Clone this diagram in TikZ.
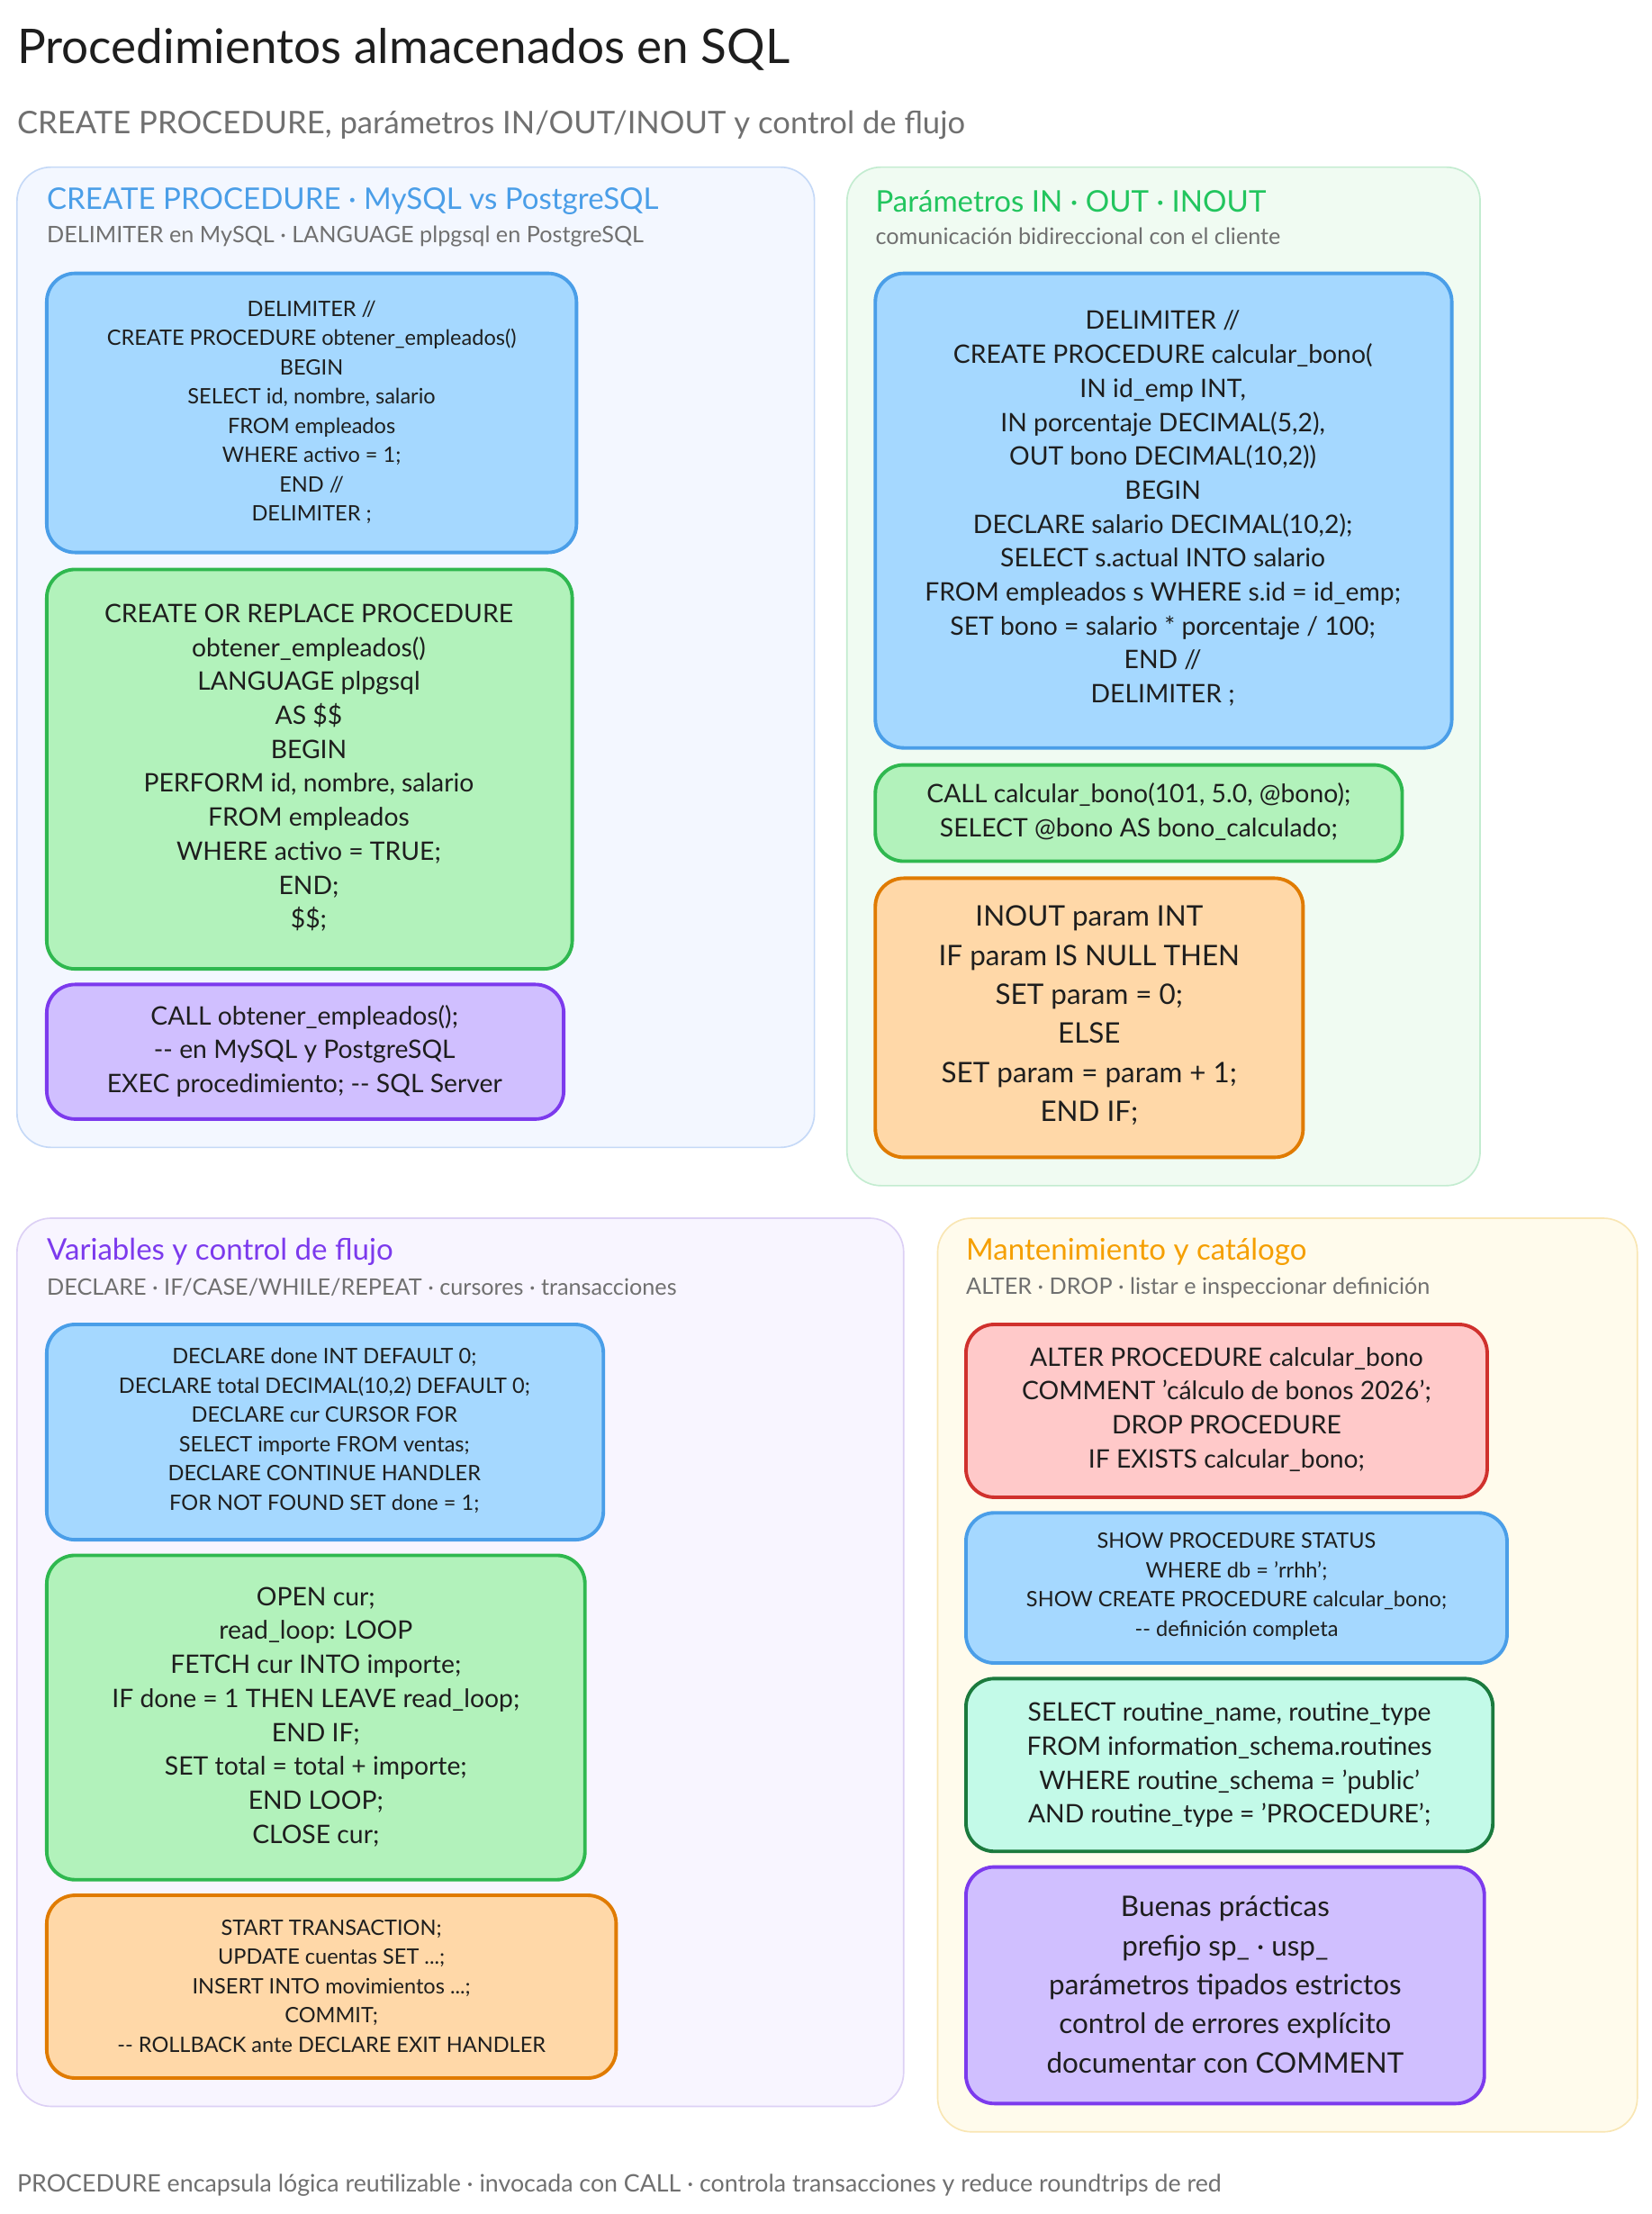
\documentclass[tikz,border=0pt]{standalone}
\usepackage{fontspec}
\setmainfont{Lato}
\definecolor{bBlueF}{HTML}{A5D8FF}\definecolor{bBlueD}{HTML}{4A9EE8}
\definecolor{bGreenF}{HTML}{B2F2BB}\definecolor{bGreenD}{HTML}{2FB84F}
\definecolor{bPurpF}{HTML}{D0BFFF}\definecolor{bPurpD}{HTML}{7C3AED}
\definecolor{bOrF}{HTML}{FFD8A8}\definecolor{bOrD}{HTML}{E07B00}
\definecolor{bRedF}{HTML}{FFC9C9}\definecolor{bRedD}{HTML}{D0312D}
\definecolor{bTealF}{HTML}{C3FAE8}\definecolor{bTealD}{HTML}{1B7A3D}
\definecolor{txt}{HTML}{1E1E1E}\definecolor{gr}{HTML}{707070}
\definecolor{p1F}{HTML}{F3F7FF}\definecolor{p1D}{HTML}{C5D9F7}
\definecolor{p2F}{HTML}{F0FBF2}\definecolor{p2D}{HTML}{C3ECD0}
\definecolor{p3F}{HTML}{F8F5FF}\definecolor{p3D}{HTML}{DCD0F5}
\definecolor{p4F}{HTML}{FFFBEC}\definecolor{p4D}{HTML}{F9E6B3}
\definecolor{t2C}{HTML}{22C55E}\definecolor{t4C}{HTML}{F59F00}
\newcommand{\fsS}{\fontsize{21.3pt}{29.4pt}\selectfont}
\newcommand{\fsM}{\fontsize{25.6pt}{34.1pt}\selectfont}
\newcommand{\fsL}{\fontsize{28.4pt}{39.2pt}\selectfont}
\newcommand{\q}{\char"27\relax}
\begin{document}
\begin{tikzpicture}[x=0.05cm,y=-0.05cm,
  panel/.style={rounded corners=1.2cm,line width=1.5pt},
  box/.style={rounded corners=1cm,line width=3.5pt},
  ptitle/.style={anchor=west,inner sep=0,font=\fontsize{29.9pt}{34pt}\selectfont},
  psub/.style={anchor=west,inner sep=0,text=gr,font=\fontsize{22.8pt}{26pt}\selectfont},
  btxt/.style={align=center,text=txt,inner sep=0}]
\useasboundingbox[fill=white] (0,0) rectangle (1166,1563);
\node[anchor=west,inner sep=0,text=txt,font=\fontsize{48pt}{55pt}\selectfont] (title) at (12,35) {Procedimientos almacenados en SQL};
\node[anchor=west,inner sep=0,text=gr,font=\fontsize{31.3pt}{36pt}\selectfont] (sub) at (12,88) {CREATE PROCEDURE, parámetros IN/OUT/INOUT y control de flujo};
\node[anchor=west,inner sep=0,text=gr,font=\fontsize{24.2pt}{28pt}\selectfont] (foot) at (12,1543) {PROCEDURE encapsula lógica reutilizable · invocada con CALL · controla transacciones y reduce roundtrips de red};
% panel 1
\draw[panel,fill=p1F,draw=p1D] (12,118) rectangle (575,810);
\node[ptitle,text=bBlueD] (t1) at (33,142) {CREATE PROCEDURE · MySQL vs PostgreSQL};
\node[psub] (s1) at (33,167) {DELIMITER en MySQL · LANGUAGE plpgsql en PostgreSQL};
\draw[box,fill=bBlueF,draw=bBlueD] (33,193) rectangle (407,390);
\node[btxt,font=\fsS] (a1) at (220,291) {DELIMITER //\\CREATE PROCEDURE obtener\_empleados()\\BEGIN\\SELECT id, nombre, salario\\FROM empleados\\WHERE activo = 1;\\END //\\DELIMITER ;};
\draw[box,fill=bGreenF,draw=bGreenD] (33,402) rectangle (404,684);
\node[btxt,font=\fsM] (a2) at (218,542) {CREATE OR REPLACE PROCEDURE\\obtener\_empleados()\\LANGUAGE plpgsql\\AS \$\$\\BEGIN\\PERFORM id, nombre, salario\\FROM empleados\\WHERE activo = TRUE;\\END;\\\$\$;};
\draw[box,fill=bPurpF,draw=bPurpD] (33,695) rectangle (398,790);
\node[btxt,font=\fsM] (a3) at (215,742) {CALL obtener\_empleados();\\-{}- en MySQL y PostgreSQL\\EXEC procedimiento; -{}- SQL Server};
% panel 2
\draw[panel,fill=p2F,draw=p2D] (598,118) rectangle (1045,837);
\node[ptitle,text=t2C] (t2) at (618,142) {Parámetros IN · OUT · INOUT};
\node[psub] (s2) at (618,167) {comunicación bidireccional con el cliente};
\draw[box,fill=bBlueF,draw=bBlueD] (618,193) rectangle (1025,528);
\node[btxt,font=\fsM] (b1) at (821,359) {DELIMITER //\\CREATE PROCEDURE calcular\_bono(\\IN id\_emp INT,\\IN porcentaje DECIMAL(5,2),\\OUT bono DECIMAL(10,2))\\BEGIN\\DECLARE salario DECIMAL(10,2);\\SELECT s.actual INTO salario\\FROM empleados s WHERE s.id = id\_emp;\\SET bono = salario * porcentaje / 100;\\END //\\DELIMITER ;};
\draw[box,fill=bGreenF,draw=bGreenD] (618,540) rectangle (990,608);
\node[btxt,font=\fsM] (b2) at (804,573) {CALL calcular\_bono(101, 5.0, @bono);\\SELECT @bono AS bono\_calculado;};
\draw[box,fill=bOrF,draw=bOrD] (618,620) rectangle (920,817);
\node[btxt,font=\fsL] (b3) at (769,717) {INOUT param INT\\IF param IS NULL THEN\\SET param = 0;\\ELSE\\SET param = param + 1;\\END IF;};
% panel 3
\draw[panel,fill=p3F,draw=p3D] (12,860) rectangle (638,1487);
\node[ptitle,text=bPurpD] (t3) at (33,884) {Variables y control de flujo};
\node[psub] (s3) at (33,909) {DECLARE · IF/CASE/WHILE/REPEAT · cursores · transacciones};
\draw[box,fill=bBlueF,draw=bBlueD] (33,935) rectangle (426,1087);
\node[btxt,font=\fsS] (c1) at (229,1010) {DECLARE done INT DEFAULT 0;\\DECLARE total DECIMAL(10,2) DEFAULT 0;\\DECLARE cur CURSOR FOR\\SELECT importe FROM ventas;\\DECLARE CONTINUE HANDLER\\FOR NOT FOUND SET done = 1;};
\draw[box,fill=bGreenF,draw=bGreenD] (33,1098) rectangle (413,1327);
\node[btxt,font=\fsM] (c2) at (223,1212) {OPEN cur;\\read\_loop: LOOP\\FETCH cur INTO importe;\\IF done = 1 THEN LEAVE read\_loop;\\END IF;\\SET total = total + importe;\\END LOOP;\\CLOSE cur;};
\draw[box,fill=bOrF,draw=bOrD] (33,1338) rectangle (435,1467);
\node[btxt,font=\fsS] (c3) at (234,1402) {START TRANSACTION;\\UPDATE cuentas SET ...;\\INSERT INTO movimientos ...;\\COMMIT;\\-{}- ROLLBACK ante DECLARE EXIT HANDLER};
% panel 4
\draw[panel,fill=p4F,draw=p4D] (662,860) rectangle (1156,1505);
\node[ptitle,text=t4C] (t4) at (682,884) {Mantenimiento y catálogo};
\node[psub] (s4) at (682,909) {ALTER · DROP · listar e inspeccionar definición};
\draw[box,fill=bRedF,draw=bRedD] (682,935) rectangle (1050,1057);
\node[btxt,font=\fsM] (d1) at (866,995) {ALTER PROCEDURE calcular\_bono\\COMMENT \q cálculo de bonos 2026\q;\\DROP PROCEDURE\\IF EXISTS calcular\_bono;};
\draw[box,fill=bBlueF,draw=bBlueD] (682,1068) rectangle (1064,1174);
\node[btxt,font=\fsS] (d2) at (873,1120) {SHOW PROCEDURE STATUS\\WHERE db = \q rrhh\q;\\SHOW CREATE PROCEDURE calcular\_bono;\\-{}- definición completa};
\draw[box,fill=bTealF,draw=bTealD] (682,1185) rectangle (1054,1307);
\node[btxt,font=\fsM] (d3) at (868,1246) {SELECT routine\_name, routine\_type\\FROM information\_schema.routines\\WHERE routine\_schema = \q public\q\\AND routine\_type = \q PROCEDURE\q;};
\draw[box,fill=bPurpF,draw=bPurpD] (682,1318) rectangle (1048,1485);
\node[btxt,font=\fsL] (d4) at (865,1401) {Buenas prácticas\\prefijo sp\_ · usp\_\\parámetros tipados estrictos\\control de errores explícito\\documentar con COMMENT};
\end{tikzpicture}
\end{document}
